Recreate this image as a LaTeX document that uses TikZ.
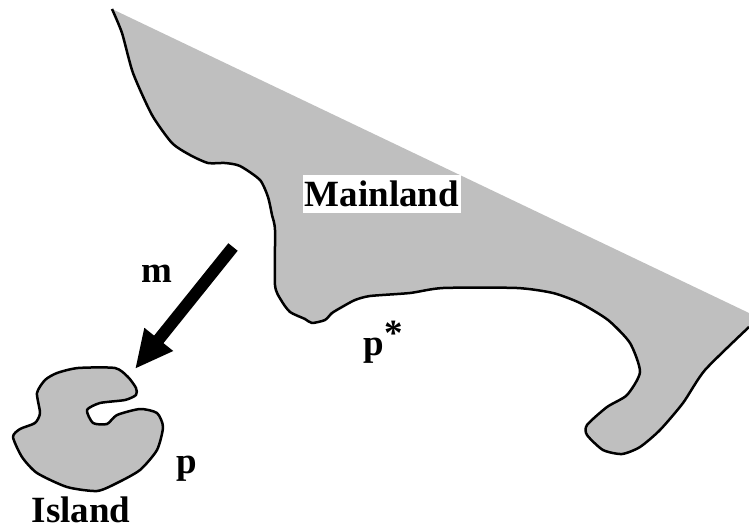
\documentclass[tikz,border=0pt]{standalone}
\usepackage{fontspec}
\setmainfont{Liberation Serif}
\usetikzlibrary{arrows.meta,positioning}
\definecolor{landgray}{gray}{0.75}
\def\mainlandcoast{(112,9) (122,33) (133,73) (152,115) (172,143) (190,155) (208,163) (225,163) (240,166) (260,180) (268,197) (272,215) (275,230) (275,285) (281,300) (290,312) (305,319) (312,323) (325,320) (332,313) (342,307) (355,300) (370,296) (410,293) (443,288) (517,288) (553,293) (580,303) (608,320) (630,343) (640,372) (627,395) (607,407) (587,425) (587,435) (603,450) (622,454) (640,447) (660,430) (683,403) (705,370) (749,327)}
\def\islandcoast{(13,437) (20,429) (35,423) (40,413) (37,393) (45,380) (57,373) (78,368) (115,368) (128,377) (136,388) (136,395) (125,400) (100,403) (87,410) (93,423) (107,424) (117,415) (140,409) (157,413) (163,427) (157,450) (140,470) (117,483) (97,491) (67,487) (37,473) (22,457)}
\begin{document}
\begin{tikzpicture}[x=1pt,y=-1pt,
 font=\fontsize{37}{40}\selectfont\bfseries,
 land/.style={fill=landgray,draw=none},
 coast/.style={draw=black,line width=2.5pt,line join=round},
 lbl/.style={inner sep=0pt,text=black}]
\useasboundingbox (0,0) rectangle (749,527);
\fill[land] plot[smooth,tension=0.4] coordinates {\mainlandcoast} -- (749,313) -- cycle;
\draw[coast] plot[smooth,tension=0.4] coordinates {\mainlandcoast};
\filldraw[land,coast,fill=landgray] plot[smooth cycle,tension=0.4] coordinates {\islandcoast};
\coordinate (tail) at (233,247);
\coordinate (tip) at (135,369);
\draw[line width=12pt,{Triangle[length=38pt,width=34pt]}-] (tip)--(tail);
\node[lbl,fill=white,minimum width=158pt,minimum height=38pt] (mainland) at (382,194) {Mainland};
\node[lbl] (island) at (81,510) {Island};
\node[lbl] (m) at (157,274) {m};
\node[lbl] (p) at (187,469) {p};
\node[lbl] (pstar) at (383,342) {p\raisebox{10pt}{*}};
\end{tikzpicture}
\end{document}
